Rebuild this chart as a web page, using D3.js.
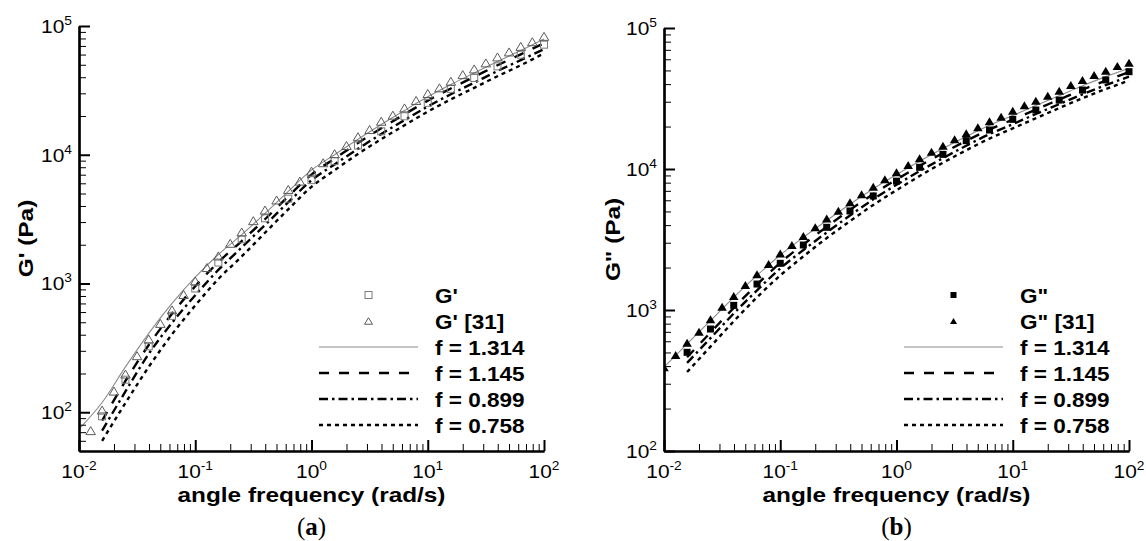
<!DOCTYPE html>
<html>
<head>
<meta charset="utf-8">
<script src="https://cdn.jsdelivr.net/npm/d3@7"></script>
<style>
  body { margin: 0; background: #fff; }
  svg { display: block; }
  text { font-family: "Liberation Sans", Arial, Helvetica, sans-serif; fill: #000; }
</style>
</head>
<body>
<svg id="fig" width="1146" height="541"></svg>
<script>
// ---------- data ----------
// angular frequency grids (rad/s)
const freqDense = [0.01, 0.0126, 0.0158, 0.02, 0.0251, 0.0316, 0.0398, 0.0501, 0.0631, 0.0794,
  0.1, 0.126, 0.158, 0.2, 0.251, 0.316, 0.398, 0.501, 0.631, 0.794,
  1, 1.26, 1.58, 2, 2.51, 3.16, 3.98, 5.01, 6.31, 7.94,
  10, 12.6, 15.8, 20, 25.1, 31.6, 39.8, 50.1, 63.1, 79.4, 100];
const freqSparse = [0.0158, 0.0251, 0.0398, 0.0631, 0.1, 0.158, 0.251, 0.398, 0.631, 1,
  1.58, 2.51, 3.98, 6.31, 10, 15.8, 25.1, 39.8, 63.1, 100];
const freqModel = [0.01, 0.0158, 0.0251, 0.0398, 0.0631, 0.1, 0.158, 0.251, 0.398, 0.631,
  1, 1.58, 2.51, 3.98, 6.31, 10, 15.8, 25.1, 39.8, 63.1, 100];

// storage modulus G' (Pa)
const storageMeasured = [93, 179, 325, 561, 915, 1455, 2205, 3210, 4560, 6350,
  8920, 11800, 15200, 19900, 25300, 32500, 39500, 48600, 59900, 71600];          // on freqSparse
const storageRef31 = [72, 104, 146, 198, 275, 370, 490, 624, 822, 1047,
  1330, 1637, 2052, 2512, 3076, 3720, 4450, 5380, 6240, 7460,
  8670, 10190, 11800, 13800, 15700, 18200, 20300, 23100, 26400, 29900,
  33100, 37200, 41900, 46400, 51700, 57500, 62900, 69500, 75500, 83100];         // on freqDense[1..]
const storageF1314 = [74, 119, 225, 410, 700, 1120, 1680, 2400, 3500, 5200,
  7600, 10000, 13200, 17200, 22100, 28200, 35100, 43200, 53100, 64600, 79400];  // on freqModel
const storageF1145 = [86, 175, 333, 582, 953, 1462, 2138, 3155, 4742, 7015,
  9333, 12330, 16070, 20610, 26300, 32730, 40270, 49550, 60260, 73600];         // on freqModel[1..]
const storageF0899 = [72, 145, 284, 495, 811, 1274, 1905, 2844, 4276, 6324,
  8414, 11120, 14490, 18580, 23710, 29510, 36310, 44670, 54330, 66070];
const storageF0758 = [60, 118, 225, 403, 675, 1084, 1622, 2477, 3767, 5636,
  7586, 10140, 13210, 16940, 21630, 26920, 33110, 40740, 49550, 61400];

// loss modulus G'' (Pa)
const lossMeasured = [501, 733, 1079, 1528, 2143, 2890, 3860, 5040, 6440, 8200,
  10280, 12700, 15880, 18900, 22500, 26200, 30800, 36300, 42800, 49000];       // on freqSparse
const lossRef31 = [393, 480, 586, 701, 859, 1054, 1256, 1503, 1790, 2118,
  2520, 2890, 3350, 3860, 4450, 5060, 5800, 6620, 7490, 8450,
  9500, 10670, 11900, 13270, 14620, 16240, 17920, 19750, 21800, 23500,
  25900, 28300, 30500, 33100, 35900, 39400, 42800, 46400, 49800, 53700, 56700]; // on freqDense
const lossF1314 = [393, 575, 841, 1230, 1758, 2455, 3273, 4315, 5623, 7244,
  9120, 11350, 13960, 16980, 20420, 23990, 28180, 33110, 38900, 45190, 51880];
const lossF1145 = [462, 692, 1035, 1514, 2163, 2917, 3890, 5129, 6637, 8414,
  10520, 12970, 15850, 19050, 22390, 26420, 31050, 36480, 42360, 48640];
const lossF0899 = [422, 631, 944, 1380, 1972, 2661, 3548, 4677, 6095, 7727,
  9661, 11940, 14620, 17660, 20800, 24550, 28840, 33880, 39360, 45190];
const lossF0758 = [363, 550, 832, 1230, 1758, 2399, 3236, 4266, 5559, 7079,
  8913, 11090, 13580, 16440, 19410, 22910, 27040, 31770, 36900, 42360];

const fitLabels = ["f = 1.314", "f = 1.145", "f = 0.899", "f = 0.758"];
const xMajorTicks = [0.01, 0.1, 1, 10, 100];
const xTickExponents = ["-2", "-1", "0", "1", "2"];

// ---------- drawing ----------
const svg = d3.select("#fig");

const fitStyles = [
  { stroke: "#8a8a8a", width: 1.1, dash: null },
  { stroke: "#000", width: 2.4, dash: "10,10" },
  { stroke: "#000", width: 2.4, dash: "9,4,2.5,4" },
  { stroke: "#000", width: 2.4, dash: "4,4" }
];

function label(g, x, y, str, o = {}) {
  const sx = o.sx || 1.1;
  const t = g.append("text")
    .attr("transform", `translate(${x},${y})${o.rotate ? " rotate(" + o.rotate + ")" : ""} scale(${sx},1)`)
    .attr("text-anchor", o.anchor || "start")
    .style("font-size", (o.size || 19) + "px")
    .style("font-weight", o.bold ? "bold" : "normal");
  if (o.family) t.style("font-family", o.family);
  t.text(str);
  return t;
}

function powerLabel(g, x, y, exp, anchor) {
  const t = g.append("text")
    .attr("transform", `translate(${x},${y}) scale(1.1,1)`)
    .attr("text-anchor", anchor)
    .style("font-size", "19px");
  t.append("tspan").text("10");
  t.append("tspan").attr("dy", -8).style("font-size", "12.5px").text(exp);
}

function triPath(cx, cy, w, h) {
  return `M${cx - w / 2},${cy + h / 2}L${cx + w / 2},${cy + h / 2}L${cx},${cy - h / 2}Z`;
}

function drawPanel(p) {
  const g = svg.append("g");
  const x = d3.scaleLog().domain([0.01, 100]).range([p.left, p.right]);
  const y = d3.scaleLog().domain([p.ymin, 1e5]).range([p.bottom, p.top]);

  const clipId = "clip-" + p.id;
  svg.append("clipPath").attr("id", clipId)
    .append("rect").attr("x", p.left).attr("y", p.top - 10)
    .attr("width", p.right - p.left + 10).attr("height", p.bottom - p.top + 10);

  // model curves
  const line = d3.line().x(d => x(d[0])).y(d => y(d[1])).curve(d3.curveMonotoneX);
  const plot = g.append("g").attr("clip-path", `url(#${clipId})`);
  p.fits.forEach((vals, i) => {
    const fr = vals.length === freqModel.length ? freqModel : freqModel.slice(1);
    const st = fitStyles[i];
    plot.append("path")
      .datum(fr.map((f, j) => [f, vals[j]]))
      .attr("d", line)
      .attr("fill", "none")
      .attr("stroke", st.stroke)
      .attr("stroke-width", st.width)
      .attr("stroke-dasharray", st.dash);
  });

  // measured data (squares) and reference data (triangles)
  const sq = 7;
  plot.selectAll(".sq").data(freqSparse.map((f, j) => [f, p.measured[j]]))
    .join("rect")
    .attr("x", d => x(d[0]) - sq / 2).attr("y", d => y(d[1]) - sq / 2)
    .attr("width", sq).attr("height", sq)
    .attr("fill", p.filled ? "#000" : "none")
    .attr("stroke", p.filled ? "#000" : "#7a7a7a")
    .attr("stroke-width", p.filled ? 0 : 1);
  const refFreq = p.ref.length === freqDense.length ? freqDense : freqDense.slice(1);
  plot.selectAll(".tri").data(refFreq.map((f, j) => [f, p.ref[j]]))
    .join("path")
    .attr("d", d => triPath(x(d[0]), y(d[1]), 9.5, 8))
    .attr("fill", p.filled ? "#000" : "none")
    .attr("stroke", p.filled ? "#000" : "#5a5a5a")
    .attr("stroke-width", p.filled ? 0 : 1);

  // axes: ticks point inward
  const yMinor = [];
  for (let e = 1; e <= 4; e++) for (let m = 2; m <= 9; m++) {
    const v = m * Math.pow(10, e);
    if (v > p.ymin && v < 1e5) yMinor.push(v);
  }
  const yMajor = [100, 1000, 10000, 100000].filter(v => v >= p.ymin);
  const xMinor = [];
  for (let e = -2; e <= 1; e++) for (let m = 2; m <= 9; m++) xMinor.push(m * Math.pow(10, e));

  const axisStyle = sel => {
    sel.select(".domain").attr("stroke", "#000").attr("stroke-width", 2.2);
    sel.selectAll(".tick line").attr("stroke", "#000");
    sel.selectAll(".tick text").remove();
  };

  g.append("g").attr("transform", `translate(${p.left},0)`)
    .call(d3.axisLeft(y).tickValues(yMinor).tickSizeInner(-7).tickSizeOuter(0).tickFormat(""))
    .call(axisStyle).call(s => s.selectAll(".tick line").attr("stroke-width", 1));
  g.append("g").attr("transform", `translate(${p.left},0)`)
    .call(d3.axisLeft(y).tickValues(yMajor).tickSizeInner(-11).tickSizeOuter(0).tickFormat(""))
    .call(axisStyle).call(s => s.selectAll(".tick line").attr("stroke-width", 2));
  g.append("g").attr("transform", `translate(0,${p.bottom})`)
    .call(d3.axisBottom(x).tickValues(xMinor).tickSizeInner(-7).tickSizeOuter(0).tickFormat(""))
    .call(axisStyle).call(s => s.selectAll(".tick line").attr("stroke-width", 1));
  g.append("g").attr("transform", `translate(0,${p.bottom})`)
    .call(d3.axisBottom(x).tickValues(xMajorTicks).tickSizeInner(-11).tickSizeOuter(0).tickFormat(""))
    .call(axisStyle).call(s => s.selectAll(".tick line").attr("stroke-width", 2));

  // tick labels
  yMajor.forEach(v => powerLabel(g, p.left - 7, y(v) + 7, String(Math.round(Math.log10(v))), "end"));
  xMajorTicks.forEach((v, i) => powerLabel(g, x(v), p.bottom + 27, xTickExponents[i], "middle"));

  // axis titles
  const cx = (p.left + p.right) / 2;
  label(g, cx, 501.5, "angle frequency (rad/s)", { anchor: "middle", bold: true, size: 21, sx: 1.16 });
  label(g, p.yTitleX, (p.top + p.bottom) / 2, p.yTitle, { anchor: "middle", bold: true, size: 21, sx: 1.16, rotate: -90 });

  // panel tag
  const tag = g.append("text")
    .attr("transform", `translate(${cx},535)`)
    .attr("text-anchor", "middle")
    .style("font-family", "'Liberation Serif', 'Times New Roman', serif")
    .style("font-size", "25px");
  tag.append("tspan").text("(");
  tag.append("tspan").style("font-weight", "bold").text(p.tag);
  tag.append("tspan").text(")");

  // legend
  const rows = [295, 321, 347, 373, 399, 425];
  const lx0 = p.right - 225, lx1 = p.right - 126, lmid = (lx0 + lx1) / 2, tx = p.right - 109;
  const lg = g.append("g");
  if (p.filled) {
    lg.append("rect").attr("x", lmid - 3).attr("y", rows[0] - 3).attr("width", 6).attr("height", 6).attr("fill", "#000");
    lg.append("path").attr("d", triPath(lmid, rows[1], 7, 6)).attr("fill", "#000");
  } else {
    lg.append("rect").attr("x", lmid - 3.5).attr("y", rows[0] - 3.5).attr("width", 7).attr("height", 7)
      .attr("fill", "none").attr("stroke", "#7a7a7a").attr("stroke-width", 1);
    lg.append("path").attr("d", triPath(lmid, rows[1], 8, 6.5))
      .attr("fill", "none").attr("stroke", "#5a5a5a").attr("stroke-width", 1);
  }
  fitStyles.forEach((st, i) => {
    lg.append("line").attr("x1", lx0).attr("x2", lx1).attr("y1", rows[i + 2]).attr("y2", rows[i + 2])
      .attr("stroke", st.stroke).attr("stroke-width", st.width).attr("stroke-dasharray", st.dash);
  });
  const legendTexts = [p.symbol, p.symbol + " [31]"].concat(fitLabels);
  legendTexts.forEach((s, i) => label(lg, tx, rows[i] + 7.5, s, { bold: true, size: 20.5, sx: 1.1 }));
}

drawPanel({
  id: "a", tag: "a", left: 79, right: 544, top: 26, bottom: 451, ymin: 50,
  measured: storageMeasured, ref: storageRef31,
  fits: [storageF1314, storageF1145, storageF0899, storageF0758],
  filled: false, symbol: "G'", yTitle: "G' (Pa)", yTitleX: 33
});
drawPanel({
  id: "b", tag: "b", left: 664, right: 1129, top: 28, bottom: 451, ymin: 100,
  measured: lossMeasured, ref: lossRef31,
  fits: [lossF1314, lossF1145, lossF0899, lossF0758],
  filled: true, symbol: "G\"", yTitle: "G\" (Pa)", yTitleX: 620
});
</script>
</body>
</html>
